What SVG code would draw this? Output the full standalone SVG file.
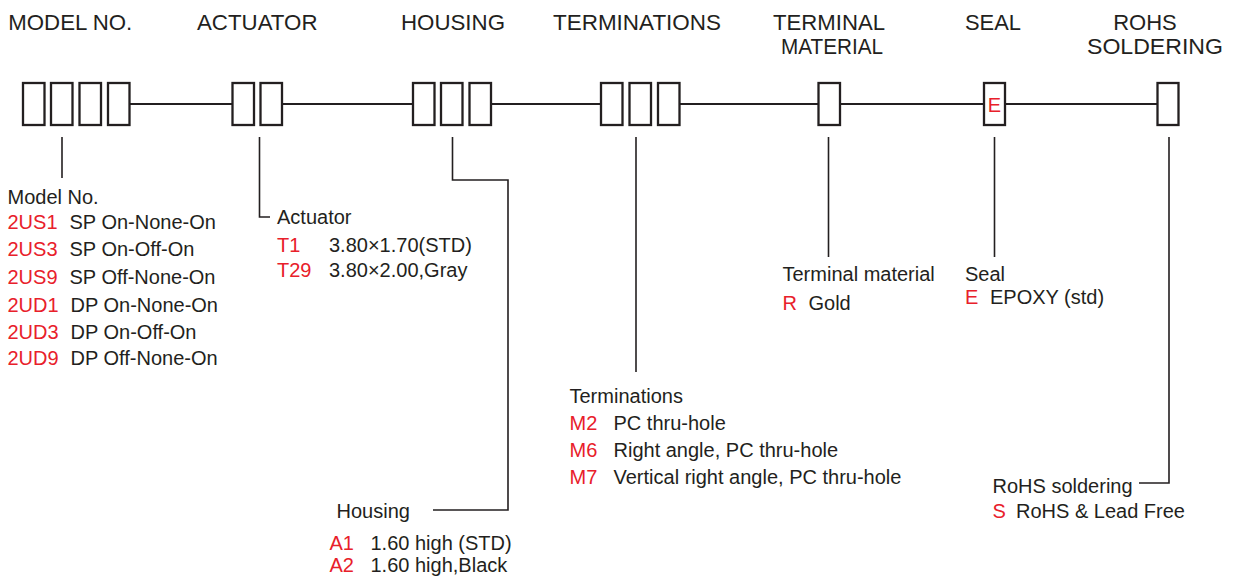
<svg xmlns="http://www.w3.org/2000/svg" width="1234" height="579" viewBox="0 0 1234 579">
<style>
text{font-family:"Liberation Sans",Arial,sans-serif;fill:#231f20}
.h{font-size:22px}
.t{font-size:20px}
.r{fill:#e8202a}
.box{fill:#fff;stroke:#231f20;stroke-width:2.3}
.ln{fill:none;stroke:#231f20;stroke-width:2}
.ld{fill:none;stroke:#231f20;stroke-width:1.6}
</style>
<rect width="1234" height="579" fill="#fff"/>
<g id="headers">
<text class="h" x="8.3" y="29.5" textLength="124" lengthAdjust="spacingAndGlyphs">MODEL NO.</text>
<text class="h" x="197" y="29.5" textLength="120.5" lengthAdjust="spacingAndGlyphs">ACTUATOR</text>
<text class="h" x="401" y="29.5" textLength="104" lengthAdjust="spacingAndGlyphs">HOUSING</text>
<text class="h" x="553" y="29.5" textLength="168" lengthAdjust="spacingAndGlyphs">TERMINATIONS</text>
<text class="h" x="773" y="29.5" textLength="112" lengthAdjust="spacingAndGlyphs">TERMINAL</text>
<text class="h" x="781" y="54" textLength="102" lengthAdjust="spacingAndGlyphs">MATERIAL</text>
<text class="h" x="965" y="29.5" textLength="56" lengthAdjust="spacingAndGlyphs">SEAL</text>
<text class="h" x="1145" y="29.5" text-anchor="middle">ROHS</text>
<text class="h" x="1087" y="54" textLength="136" lengthAdjust="spacingAndGlyphs">SOLDERING</text>
</g>
<g id="connectors">
<path class="ln" d="M130 104H232M282 104H413M491 104H601M680 104H818M840 104H984M1005 104H1157"/>
<path class="ld" d="M62 137V178"/>
<path class="ld" d="M259.5 137V217H270"/>
<path class="ld" d="M452.5 137V180H508V510H433"/>
<path class="ld" d="M636 137V372"/>
<path class="ld" d="M828.5 137V257"/>
<path class="ld" d="M994.5 137V257"/>
<path class="ld" d="M1169 137V483H1139"/>
</g>
<g id="model-boxes">
<rect class="box" x="23" y="83" width="21.5" height="42"/>
<rect class="box" x="51" y="83" width="21.5" height="42"/>
<rect class="box" x="79.5" y="83" width="21.5" height="42"/>
<rect class="box" x="108" y="83" width="21.5" height="42"/>
</g>
<g id="actuator-boxes">
<rect class="box" x="232.5" y="83" width="21.5" height="42"/>
<rect class="box" x="260.5" y="83" width="21.5" height="42"/>
</g>
<g id="housing-boxes">
<rect class="box" x="413" y="83" width="21.5" height="42"/>
<rect class="box" x="441" y="83" width="21.5" height="42"/>
<rect class="box" x="469.5" y="83" width="21.5" height="42"/>
</g>
<g id="terminations-boxes">
<rect class="box" x="601" y="83" width="21.5" height="42"/>
<rect class="box" x="629.5" y="83" width="21.5" height="42"/>
<rect class="box" x="658" y="83" width="21.5" height="42"/>
</g>
<g id="terminal-material-box">
<rect class="box" x="818.5" y="83" width="21.5" height="42"/>
</g>
<g id="seal-box">
<rect class="box" x="984" y="83" width="21" height="42"/>
<text class="t r" x="994.5" y="111.5" text-anchor="middle">E</text>
</g>
<g id="rohs-box">
<rect class="box" x="1157.5" y="83" width="21" height="42"/>
</g>
<g id="model-legend">
<text class="t" x="7.5" y="204">Model No.</text>
<text class="t r" x="7.5" y="228.5">2US1</text><text class="t" x="69.5" y="228.5">SP On-None-On</text>
<text class="t r" x="7.5" y="256">2US3</text><text class="t" x="69.5" y="256">SP On-Off-On</text>
<text class="t r" x="7.5" y="283.5">2US9</text><text class="t" x="69.5" y="283.5">SP Off-None-On</text>
<text class="t r" x="7.5" y="311.5">2UD1</text><text class="t" x="70.5" y="311.5">DP On-None-On</text>
<text class="t r" x="7.5" y="338.5">2UD3</text><text class="t" x="70.5" y="338.5">DP On-Off-On</text>
<text class="t r" x="7.5" y="365">2UD9</text><text class="t" x="70.5" y="365">DP Off-None-On</text>
</g>
<g id="actuator-legend">
<text class="t" x="277" y="223.5">Actuator</text>
<text class="t r" x="277" y="251.5">T1</text><text class="t" x="329" y="251.5">3.80×1.70(STD)</text>
<text class="t r" x="277" y="276.5">T29</text><text class="t" x="329" y="276.5">3.80×2.00,Gray</text>
</g>
<g id="housing-legend">
<text class="t" x="336.5" y="517.5">Housing</text>
<text class="t r" x="329.5" y="549.5">A1</text><text class="t" x="370.5" y="549.5">1.60 high (STD)</text>
<text class="t r" x="329.5" y="572">A2</text><text class="t" x="370.5" y="572">1.60 high,Black</text>
</g>
<g id="terminations-legend">
<text class="t" x="569.5" y="402.5">Terminations</text>
<text class="t r" x="569.5" y="430">M2</text><text class="t" x="613.5" y="430">PC thru-hole</text>
<text class="t r" x="569.5" y="457">M6</text><text class="t" x="613.5" y="457">Right angle, PC thru-hole</text>
<text class="t r" x="569.5" y="484">M7</text><text class="t" x="613.5" y="484">Vertical right angle, PC thru-hole</text>
</g>
<g id="terminal-material-legend">
<text class="t" x="782.5" y="280.5">Terminal material</text>
<text class="t r" x="782.5" y="310">R</text><text class="t" x="808.5" y="310">Gold</text>
</g>
<g id="seal-legend">
<text class="t" x="965" y="280.5">Seal</text>
<text class="t r" x="965" y="304">E</text><text class="t" x="990" y="304">EPOXY (std)</text>
</g>
<g id="rohs-legend">
<text class="t" x="992.5" y="492.5">RoHS soldering</text>
<text class="t r" x="992.5" y="517.5">S</text><text class="t" x="1016" y="517.5">RoHS &amp; Lead Free</text>
</g>
</svg>
